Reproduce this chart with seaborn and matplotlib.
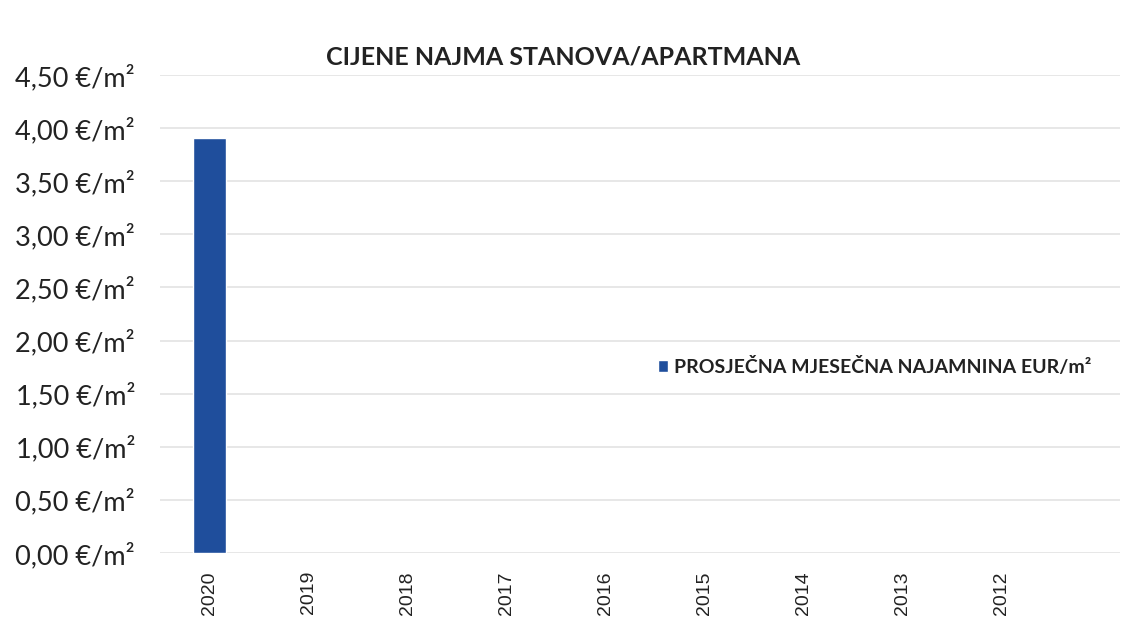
import matplotlib
matplotlib.use("Agg")
import matplotlib.pyplot as plt
import matplotlib.ticker as mticker
import numpy as np
import pandas as pd
import seaborn as sns

# podaci s grafa
years = ['2020', '2019', '2018', '2017', '2016', '2015', '2014', '2013', '2012']
rent = [3.91, np.nan, np.nan, np.nan, np.nan, np.nan, np.nan, np.nan, np.nan]
series_label = 'PROSJEČNA MJESEČNA NAJAMNINA EUR/m²'
title = 'CIJENE NAJMA STANOVA/APARTMANA'

df = pd.DataFrame({'godina': years, 'najamnina': rent})

sns.set_style('white')
plt.rcParams['font.family'] = ['Lato', 'DejaVu Sans']

fig = plt.figure(figsize=(11.37, 6.43), dpi=100)
ax = fig.add_axes([160 / 1137, 1 - 553 / 643, 960 / 1137, 478 / 643])

sns.barplot(data=df, x='godina', y='najamnina', order=years, color='#1f4e9c',
            width=0.34, label=series_label, ax=ax, errorbar=None, saturation=1)

ax.set_ylim(0, 4.5)
ax.set_xlim(-0.5, 9.2)
ax.yaxis.set_major_locator(mticker.MultipleLocator(0.5))
ax.yaxis.set_major_formatter(mticker.FuncFormatter(
    lambda v, p: f"{v:.2f}".replace('.', ',') + ' €/m²'))
ax.grid(axis='y', color='#e3e3e3', linewidth=1.2)
ax.set_axisbelow(True)
for s in ax.spines.values():
    s.set_visible(False)
ax.set_xlabel('')
ax.set_ylabel('')
ax.tick_params(axis='y', labelsize=19.5, colors='#222222', pad=18, length=0)
ax.tick_params(axis='x', labelsize=14, colors='#222222', rotation=90, length=0, pad=13)
for t in ax.get_xticklabels():
    t.set_family('Liberation Sans')

fig.text(563 / 1137, 1 - 57 / 643, title, ha='center', va='center',
         fontsize=18, fontweight='bold', color='#222222')

leg = ax.legend(loc='center left', bbox_to_anchor=(0.5, 0.39), frameon=False,
                handlelength=0.55, handleheight=0.55, handletextpad=0.3,
                prop={'weight': 'bold', 'size': 14})
for t in leg.get_texts():
    t.set_color('#222222')

fig.savefig('out.png', dpi=100)
